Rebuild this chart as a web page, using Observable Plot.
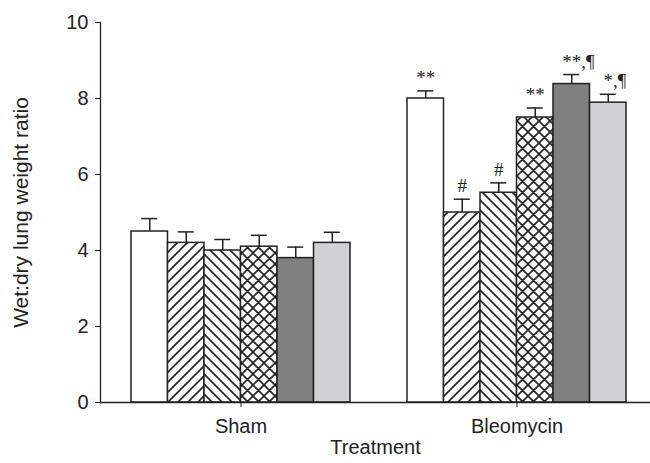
<!DOCTYPE html>
<html><head><meta charset="utf-8">
<script src="https://cdn.jsdelivr.net/npm/d3@7"></script>
<script src="https://cdn.jsdelivr.net/npm/@observablehq/plot@0.6"></script>
<style>body{margin:0;background:#fff}</style>
</head><body><div id="chart"></div>
<script>
// ---- data ----
const treatments = ["Sham", "Bleomycin"];
const groupIds = [0, 1, 2, 3, 4, 5];
const shamMeans = [4.5, 4.2, 4.0, 4.1, 3.8, 4.2];
const shamErrs  = [0.34, 0.29, 0.29, 0.30, 0.29, 0.28];
const bleoMeans = [8.0, 5.0, 5.52, 7.5, 8.38, 7.89];
const bleoErrs  = [0.2, 0.35, 0.26, 0.25, 0.25, 0.22];
const shamMarks = ["", "", "", "", "", ""];
const bleoMarks = ["**", "#", "#", "**", "**", "*"];
const shamSuffix = ["", "", "", "", "", ""];
const bleoSuffix = ["", "", "", "", ",¶", ",¶"];
const yTicks = [0, 2, 4, 6, 8, 10];

// ---- styles ----
const fills = ["white", "url(#hatchR)", "url(#hatchL)", "url(#cross)", "#7f7f7f", "#d0d1d3"];
const ink = "#222";
const annFont = "'Liberation Serif', 'DejaVu Serif', serif";
const annSize = 19;

const W = 650, H = 463, mL = 100, mR = 0, mT = 22, mB = 61;
const xRange = [100, 657], pIn = 0.2065, pOut = 0.1123;
const band = d3.scaleBand().domain(treatments).range(xRange).paddingInner(pIn).paddingOuter(pOut);
const w = band.bandwidth() / 6;
const capW = 16;

const rows = [];
treatments.forEach((t, ti) => groupIds.forEach(g => rows.push({
  treatment: t, group: g,
  mean: ti === 0 ? shamMeans[g] : bleoMeans[g],
  err: ti === 0 ? shamErrs[g] : bleoErrs[g],
  mark: ti === 0 ? shamMarks[g] : bleoMarks[g],
  suffix: ti === 0 ? shamSuffix[g] : bleoSuffix[g]
})));

const chart = Plot.plot({
  width: W, height: H, marginLeft: mL, marginRight: mR, marginTop: mT, marginBottom: mB,
  style: {fontFamily: "'Liberation Sans', Arial, sans-serif", fontSize: "20px", color: ink, background: "white"},
  x: {domain: treatments, range: xRange, paddingInner: pIn, paddingOuter: pOut},
  y: {domain: [0, 10]},
  marks: [
    ...groupIds.flatMap(g => {
      const sub = rows.filter(d => d.group === g);
      const ann = sub.filter(d => d.mark);
      const suf = sub.filter(d => d.suffix);
      const starW = bleoMarks[g].length * (annSize * 0.5) / 2;
      return [
        Plot.barY(sub, {x: "treatment", y: "mean", fill: fills[g], stroke: ink, strokeWidth: 1.5,
          insetLeft: g * w, insetRight: (5 - g) * w}),
        Plot.ruleX(sub, {x: "treatment", y1: "mean", y2: d => d.mean + d.err, dx: (g - 2.5) * w, stroke: ink, strokeWidth: 1.5}),
        Plot.tickY(sub, {x: "treatment", y: d => d.mean + d.err, stroke: ink, strokeWidth: 1.5,
          insetLeft: g * w + (w - capW) / 2, insetRight: (5 - g) * w + (w - capW) / 2}),
        Plot.text(ann, {x: "treatment", y: d => d.mean + d.err, text: "mark", dx: (g - 2.5) * w, dy: -7,
          lineAnchor: "bottom", fontFamily: annFont, fontSize: annSize, fill: ink}),
        Plot.text(suf, {x: "treatment", y: d => d.mean + d.err, text: "suffix", textAnchor: "start",
          dx: (g - 2.5) * w + starW, dy: -7, lineAnchor: "bottom", fontFamily: annFont, fontSize: annSize, fill: ink})
      ];
    }),
    Plot.ruleY([0], {stroke: ink, strokeWidth: 1.3}),
    Plot.frame({anchor: "left", stroke: ink, strokeWidth: 1.3}),
    Plot.axisY({ticks: yTicks, tickSize: 5, tickPadding: 7, label: null}),
    Plot.axisY({ticks: [], tickSize: 0, label: "Wet:dry lung weight ratio", labelArrow: "none", labelAnchor: "center", labelOffset: 87,
      fontSize: 21}),
    Plot.axisX({tickSize: 5, tickPadding: 11, label: "Treatment", labelArrow: "none", labelAnchor: "center", labelOffset: 51})
  ]
});

const defs = `<defs>
<pattern id="hatchR" patternUnits="userSpaceOnUse" width="10" height="10">
<rect width="10" height="10" fill="white"/>
<path d="M-2,2 L2,-2 M0,10 L10,0 M8,12 L12,8" stroke="${ink}" stroke-width="1.6"/></pattern>
<pattern id="hatchL" patternUnits="userSpaceOnUse" width="10" height="10">
<rect width="10" height="10" fill="white"/>
<path d="M-2,8 L2,12 M0,0 L10,10 M8,-2 L12,2" stroke="${ink}" stroke-width="1.6"/></pattern>
<pattern id="cross" patternUnits="userSpaceOnUse" width="11" height="11">
<rect width="11" height="11" fill="white"/>
<path d="M-2,2 L2,-2 M0,11 L11,0 M9,13 L13,9 M-2,9 L2,13 M0,0 L11,11 M9,-2 L13,2" stroke="${ink}" stroke-width="1.6"/></pattern>
</defs>`;
chart.insertAdjacentHTML("afterbegin", defs);
document.getElementById("chart").appendChild(chart);
</script>
</body></html>
